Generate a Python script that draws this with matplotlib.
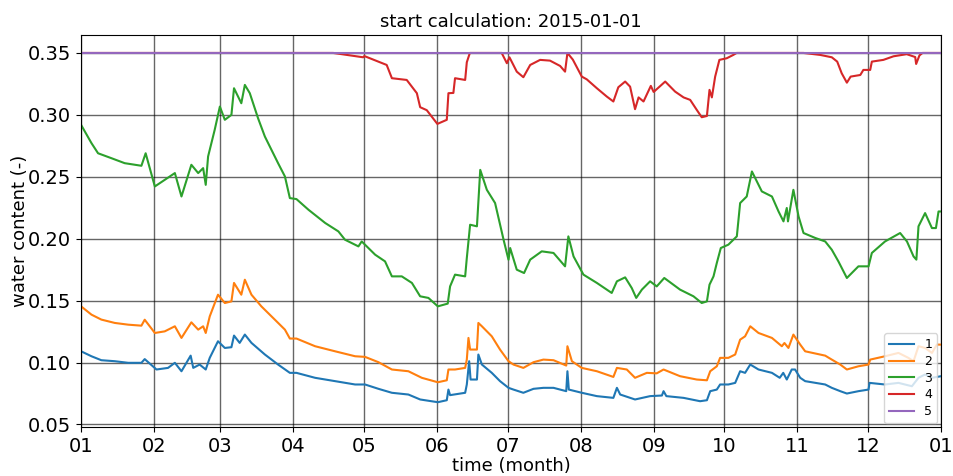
"""
Soil water content per layer over one year.
"""

import matplotlib
matplotlib.use("Agg")
import matplotlib.pyplot as plt
import matplotlib.dates as mdates
import pandas as pd

start = pd.Timestamp("2015-01-01")

# layer 1 (day of year, value)
days_1 = [0, 4.4, 8.6, 14.3, 20, 25.6, 27, 32, 36.9, 39.8, 42.6, 46.5, 47.6, 50.3, 52.9, 54.6,
          58.1, 61, 63.8, 64.9, 67.3, 69.5, 72.3, 78, 83.6, 88.6, 91.4, 99.3, 107.8, 116.3,
          120.5, 126.2, 131.9, 138.9, 143.9, 151.4, 155.2, 155.9, 156.6, 163, 163.7, 164.7,
          165.3, 168, 168.6, 170.1, 174.3, 177.8, 181.4, 183.5, 187.7, 192, 196.2, 200.5,
          205.9, 206.4, 207, 212.5, 218.9, 225.9, 227.4, 228.8, 235.1, 241.5, 246.5, 247.2,
          248.4, 255.7, 262.7, 265.6, 267, 269.8, 271.2, 274.7, 277.6, 279.7, 281.8, 284,
          287.5, 293.2, 296.5, 298, 299.5, 301.6, 303, 305.2, 307.3, 315.8, 318.6, 322.2,
          325, 329.9, 334.2, 334.6, 341.2, 346.9, 352.6, 355.4, 358.2, 361.1, 365]
vals_1 = [0.1091, 0.1051, 0.1019, 0.1011, 0.0998, 0.0998, 0.1028, 0.0944, 0.0957, 0.0998,
          0.0930, 0.1056, 0.0957, 0.0984, 0.0944, 0.1038, 0.1172, 0.1118, 0.1124, 0.1218,
          0.1159, 0.1226, 0.1159, 0.1065, 0.0984, 0.0917, 0.0917, 0.0877, 0.0850, 0.0823,
          0.0823, 0.0788, 0.0756, 0.0742, 0.0702, 0.0680, 0.0696, 0.0782, 0.0737, 0.0756,
          0.0823, 0.1011, 0.0863, 0.0863, 0.1065, 0.0984, 0.0917, 0.0850, 0.0796, 0.0782,
          0.0756, 0.0788, 0.0796, 0.0796, 0.0769, 0.0930, 0.0782, 0.0756, 0.0729, 0.0715,
          0.0796, 0.0742, 0.0702, 0.0729, 0.0734, 0.0769, 0.0729, 0.0715, 0.0688, 0.0696,
          0.0769, 0.0782, 0.0823, 0.0823, 0.0836, 0.0930, 0.0917, 0.0984, 0.0944, 0.0917,
          0.0877, 0.0917, 0.0863, 0.0944, 0.0944, 0.0877, 0.0850, 0.0823, 0.0796, 0.0769,
          0.0750, 0.0769, 0.0782, 0.0836, 0.0823, 0.0836, 0.0809, 0.0877, 0.0904, 0.0877,
          0.0890]

# layer 2
days_2 = [0, 4.4, 8.6, 14.3, 20, 25.6, 27, 31.3, 35.5, 39.8, 42.6, 46.8, 49.7, 51.8, 52.9,
          54.6, 58.1, 61, 63.8, 64.9, 68, 69.5, 72.3, 76.5, 82.2, 86.5, 88.6, 91.4, 99.3,
          107.8, 116.3, 120.5, 126.2, 131.9, 138.9, 144.6, 151.4, 155.2, 155.9, 158.7, 163,
          163.7, 164.4, 165.1, 168, 168.6, 170.1, 174.3, 177.8, 181.4, 183.5, 187.7, 192,
          196.2, 200.5, 205.9, 206.4, 208.3, 212.5, 218.9, 225.9, 227.4, 231.6, 235.1, 240.1,
          244.3, 247.2, 254.2, 261.3, 265.6, 267, 269.8, 271.2, 274.7, 277.6, 279.7, 281.8,
          284, 287.5, 293.2, 297.4, 298.5, 300.2, 302.3, 305.2, 307.3, 315.8, 318.6, 322.2,
          325, 329.9, 334.2, 334.9, 341.2, 346.9, 351.1, 353.3, 355.4, 358.2, 361.1, 363.2,
          365]
vals_2 = [0.1454, 0.1387, 0.1347, 0.1320, 0.1306, 0.1298, 0.1346, 0.1239, 0.1252, 0.1293,
          0.1199, 0.1325, 0.1266, 0.1293, 0.1239, 0.1373, 0.1548, 0.1481, 0.1494, 0.1643,
          0.1548, 0.1669, 0.1548, 0.1454, 0.1347, 0.1266, 0.1194, 0.1194, 0.1132, 0.1091,
          0.1051, 0.1046, 0.1003, 0.0944, 0.0930, 0.0877, 0.0841, 0.0857, 0.0944, 0.0944,
          0.0957, 0.1024, 0.1199, 0.1105, 0.1105, 0.1320, 0.1293, 0.1212, 0.1105, 0.1011,
          0.0984, 0.0957, 0.1003, 0.1024, 0.1019, 0.0976, 0.1132, 0.1011, 0.0957, 0.0930,
          0.0884, 0.0957, 0.0944, 0.0877, 0.0917, 0.0913, 0.0944, 0.0890, 0.0863, 0.0857,
          0.0930, 0.0970, 0.1038, 0.1038, 0.1065, 0.1185, 0.1212, 0.1293, 0.1239, 0.1199,
          0.1132, 0.1158, 0.1118, 0.1226, 0.1145, 0.1091, 0.1056, 0.1024, 0.0984, 0.0944,
          0.0970, 0.0984, 0.1024, 0.1051, 0.1078, 0.1038, 0.1011, 0.1132, 0.1118, 0.1078,
          0.1145, 0.1145]

# layer 3
days_3 = [0, 4.4, 7.2, 12.9, 18.5, 25.6, 27.4, 31.3, 39.8, 42.6, 46.8, 49.7, 51.8, 52.9,
          53.9, 56.7, 58.9, 61, 63.8, 64.9, 68, 69.5, 71.6, 75.1, 78, 83.6, 86.5, 88.6, 91.4,
          96.5, 103.6, 109.2, 112, 117.7, 119.1, 124.8, 129, 131.9, 136.1, 140.4, 143.9,
          147.4, 151.4, 155.6, 156.6, 158.7, 163, 163.7, 165.1, 168, 169.4, 172.2, 175.7,
          179.3, 181.4, 182.1, 184.9, 188, 190.6, 195.5, 200.5, 205.4, 206.8, 209, 213.2,
          218.9, 225.2, 227.4, 230.9, 233.7, 235.6, 238, 241.5, 244.3, 247.5, 254.2, 259.9,
          263.4, 265.6, 266.7, 268.4, 269.8, 271.5, 274.7, 278.3, 279.7, 282.5, 284.7, 288.9,
          293.2, 296, 298.1, 299.5, 300, 302.3, 304.5, 306.6, 311.6, 315.8, 318.6, 321.4, 325,
          329.9, 334.2, 335.6, 341.2, 347.6, 350.5, 353.3, 354.5, 355.4, 358.2, 361.1, 362.8,
          363.9, 365]
vals_3 = [0.2919, 0.2772, 0.2690, 0.2650, 0.2610, 0.2589, 0.2690, 0.2422, 0.2530, 0.2341,
          0.2597, 0.2530, 0.2570, 0.2435, 0.2664, 0.2879, 0.3067, 0.2960, 0.3000, 0.3215,
          0.3094, 0.3242, 0.3175, 0.2973, 0.2825, 0.2610, 0.2503, 0.2328, 0.2320, 0.2234,
          0.2127, 0.2059, 0.1992, 0.1938, 0.1978, 0.1871, 0.1817, 0.1696, 0.1696, 0.1643,
          0.1535, 0.1522, 0.1454, 0.1476, 0.1615, 0.1710, 0.1696, 0.1844, 0.2113, 0.2100,
          0.2556, 0.2395, 0.2288, 0.1992, 0.1830, 0.1925, 0.1750, 0.1723, 0.1831, 0.1898,
          0.1885, 0.1777, 0.2019, 0.1857, 0.1710, 0.1643, 0.1562, 0.1656, 0.1688, 0.1602,
          0.1522, 0.1589, 0.1656, 0.1615, 0.1683, 0.1589, 0.1535, 0.1481, 0.1494, 0.1629,
          0.1696, 0.1804, 0.1925, 0.1952, 0.2019, 0.2288, 0.2341, 0.2543, 0.2382, 0.2341,
          0.2220, 0.2140, 0.2248, 0.2140, 0.2395, 0.2180, 0.2046, 0.2006, 0.1978, 0.1911,
          0.1817, 0.1683, 0.1777, 0.1777, 0.1885, 0.1978, 0.2046, 0.1978, 0.1857, 0.1831,
          0.2100, 0.2207, 0.2086, 0.2086, 0.2220, 0.2220]

# layer 4
days_4 = [0, 107, 119.7, 120.2, 129.7, 131.9, 138.2, 142.5, 143.9, 146.7, 151.2, 155.2, 155.9,
          158, 158.7, 163, 163.7, 165, 178.5, 180.7, 181.8, 184.9, 187.7, 190.6, 194.8, 199,
          203.3, 205.4, 206.4, 208.7, 212.5, 214.6, 218.9, 223.1, 225.9, 228, 230.9, 233,
          235.1, 236.6, 238.7, 241.8, 243, 247.9, 252.1, 255.7, 258.5, 261.3, 263.4, 265.6,
          266.7, 267.7, 269.1, 270.9, 274, 276.8, 278.2, 306.6, 313.7, 318.6, 320.9, 322.8,
          325, 326.6, 330.7, 332, 334.9, 335.6, 340.5, 344.8, 350.4, 354, 354.4, 355.8, 357.1,
          365]
vals_4 = [0.3500, 0.3500, 0.3465, 0.3475, 0.3403, 0.3296, 0.3282, 0.3175, 0.3062, 0.3038,
          0.2927, 0.2960, 0.3175, 0.3177, 0.3296, 0.3282, 0.3425, 0.3500, 0.3500, 0.3417,
          0.3465, 0.3349, 0.3304, 0.3403, 0.3444, 0.3438, 0.3395, 0.3349, 0.3500, 0.3446,
          0.3309, 0.3287, 0.3215, 0.3148, 0.3108, 0.3223, 0.3269, 0.3228, 0.3046, 0.3141,
          0.3108, 0.3234, 0.3185, 0.3269, 0.3188, 0.3141, 0.3121, 0.3040, 0.2981, 0.2991,
          0.3202, 0.3141, 0.3309, 0.3444, 0.3457, 0.3484, 0.3500, 0.3500, 0.3484, 0.3465,
          0.3430, 0.3336, 0.3260, 0.3309, 0.3322, 0.3363, 0.3363, 0.3430, 0.3444, 0.3473,
          0.3490, 0.3467, 0.3411, 0.3480, 0.3500, 0.3500]

# layer 5
days_5 = [0, 365]
vals_5 = [0.35, 0.35]

series = [("1", days_1, vals_1), ("2", days_2, vals_2), ("3", days_3, vals_3),
          ("4", days_4, vals_4), ("5", days_5, vals_5)]

fig = plt.figure(figsize=(9.54, 4.76), dpi=100)
ax = fig.add_axes([0.085, 0.103, 0.9015, 0.8235])

for name, days, vals in series:
    t = start + pd.to_timedelta(days, unit="D")
    ax.plot(t, vals, lw=1.5, label=name)

ax.set_xlim(start, pd.Timestamp("2016-01-01"))
ax.set_ylim(0.048, 0.3645)
ax.xaxis.set_major_locator(mdates.MonthLocator())
ax.xaxis.set_major_formatter(mdates.DateFormatter("%m"))
ax.set_yticks([0.05, 0.10, 0.15, 0.20, 0.25, 0.30, 0.35])
ax.tick_params(labelsize=14)
ax.grid(True, color="k", alpha=0.6, lw=1)

ax.set_title("start calculation: 2015-01-01", fontsize=13)
ax.set_xlabel("time (month)", fontsize=13, labelpad=1)
ax.set_ylabel("water content (-)", fontsize=13, labelpad=-1)
ax.legend(loc="lower right", fontsize=9, borderaxespad=0.3, labelspacing=0.3)

fig.savefig("out.png", dpi=100)
